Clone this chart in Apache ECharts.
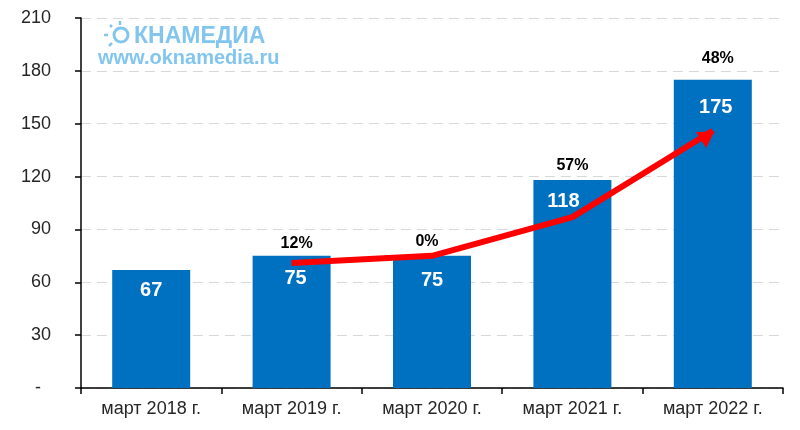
<!DOCTYPE html>
<html>
<head>
<meta charset="utf-8">
<style>
html, body { margin: 0; padding: 0; background: #fff; }
#chart { width: 800px; height: 430px; }
</style>
<script src="https://cdn.jsdelivr.net/npm/echarts@6/dist/echarts.min.js"></script>
</head>
<body>
<div id="chart"></div>
<script>
var categories = ['март 2018 г.', 'март 2019 г.', 'март 2020 г.', 'март 2021 г.', 'март 2022 г.'];
var barValues = [67, 75, 75, 118, 175];
var growthLabels = ['', '12%', '0%', '57%', '48%'];
var trendValues = [null, 71, 75, 97, 146];

var font = '"Liberation Sans", Arial, sans-serif';
var logoColor = '#82c6f0';
// сдвиги подписей, как в оригинале
var barLabelOffset = [[0, 0], [4, 2], [0, 4], [-9, 0], [3, 7]];
var growthLabelOffset = [[0, 0], [5, 0], [-5, -2], [0, -3], [5, -9]];

var myChart = echarts.init(document.getElementById('chart'), null, { renderer: 'canvas' });

// солнце у логотипа
var rays = [[108, 35, 104, 35], [112, 27, 110, 25], [120, 25, 120, 21], [112, 43, 109, 46]];
var logo = rays.map(function (r) {
    return {
        type: 'line', z: 20,
        shape: { x1: r[0], y1: r[1], x2: r[2], y2: r[3] },
        style: { stroke: logoColor, lineWidth: 2.5 }
    };
});
logo.push({
    type: 'circle', z: 20,
    shape: { cx: 121, cy: 35, r: 7 },
    style: { fill: 'none', stroke: logoColor, lineWidth: 3 }
});
logo.push({
    type: 'text', z: 20, left: 134, top: 25,
    style: { text: 'КНАМЕДИА', fill: logoColor, font: 'bold 23px ' + font }
});
logo.push({
    type: 'text', z: 20, left: 98, top: 48,
    style: { text: 'www.oknamedia.ru', fill: logoColor, font: 'bold 20px ' + font }
});

myChart.setOption({
    animation: false,
    color: ['#0070c0', '#ff0000'],
    grid: { left: 81, right: 17, top: 18, bottom: 42 },
    graphic: logo,
    xAxis: {
        type: 'category',
        data: categories,
        axisLine: { lineStyle: { color: '#000', width: 1.5 } },
        axisTick: { show: true, alignWithLabel: false, length: 6, lineStyle: { color: '#000', width: 1.5 } },
        axisLabel: { color: '#262626', fontSize: 18, fontFamily: font, margin: 12 }
    },
    yAxis: {
        type: 'value',
        min: 0,
        max: 210,
        interval: 30,
        axisLine: { show: true, lineStyle: { color: '#000', width: 1.5 } },
        axisTick: { show: true, length: 6, lineStyle: { color: '#000', width: 1.5 } },
        axisLabel: {
            color: '#262626', fontSize: 18, fontFamily: font, margin: 30,
            formatter: function (v) { return v === 0 ? '-  ' : v; }
        },
        splitLine: { lineStyle: { color: '#d9d9d9', type: [10, 6], width: 1 } }
    },
    series: [
        {
            type: 'bar',
            data: barValues.map(function (v, i) {
                return { value: v, label: { offset: barLabelOffset[i] } };
            }),
            barWidth: 78,
            label: {
                show: true, position: 'insideTop', distance: 11,
                color: '#fff', fontSize: 20, fontWeight: 'bold', fontFamily: font
            }
        },
        {
            // подписи прироста над столбцами
            type: 'bar',
            data: barValues.map(function (v, i) {
                return { value: v, label: { offset: growthLabelOffset[i] } };
            }),
            barWidth: 78,
            barGap: '-100%',
            itemStyle: { color: 'transparent' },
            label: {
                show: true, position: 'top', distance: 4,
                color: '#000', fontSize: 16, fontWeight: 'bold', fontFamily: font,
                formatter: function (p) { return growthLabels[p.dataIndex]; }
            }
        },
        {
            type: 'line',
            data: trendValues.map(function (v, i) {
                return i === trendValues.length - 1
                    ? { value: v, symbol: 'triangle', symbolSize: [19, 16], symbolRotate: -58, symbolOffset: [-5, 5] }
                    : { value: v, symbol: 'none' };
            }),
            showSymbol: true,
            z: 10,
            lineStyle: { color: '#ff0000', width: 6 },
            itemStyle: { color: '#ff0000' }
        }
    ]
});
</script>
</body>
</html>
